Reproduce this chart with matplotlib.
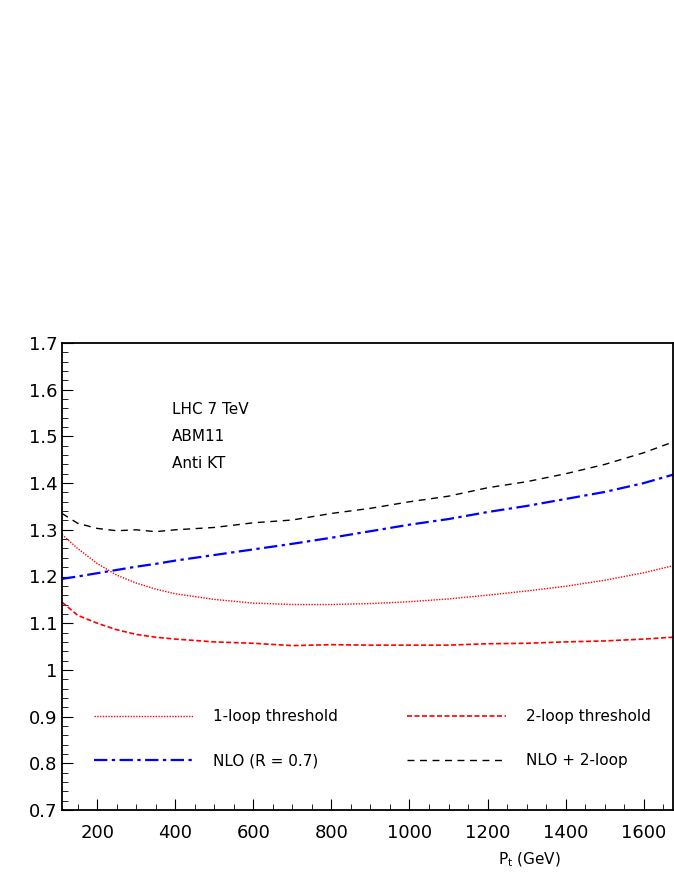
import matplotlib
matplotlib.use("Agg")
import matplotlib.pyplot as plt
from matplotlib.ticker import MultipleLocator

# Pt grid (GeV)
pt = [110, 150, 200, 250, 300, 350, 400, 500, 600, 700, 800, 900, 1000,
      1100, 1200, 1300, 1400, 1500, 1600, 1675]

one_loop = [1.29, 1.26, 1.228, 1.203, 1.186, 1.173, 1.163, 1.151, 1.143, 1.140,
            1.140, 1.142, 1.146, 1.152, 1.160, 1.169, 1.179, 1.192, 1.208, 1.223]
two_loop = [1.145, 1.117, 1.100, 1.086, 1.076, 1.070, 1.066, 1.060, 1.057, 1.052,
            1.054, 1.053, 1.053, 1.053, 1.056, 1.057, 1.060, 1.062, 1.066, 1.070]
nlo = [1.195, 1.200, 1.207, 1.214, 1.221, 1.227, 1.234, 1.246, 1.258, 1.270,
       1.283, 1.297, 1.311, 1.323, 1.338, 1.351, 1.366, 1.381, 1.400, 1.418]
nlo_2loop = [1.335, 1.314, 1.303, 1.298, 1.300, 1.296, 1.300, 1.305, 1.315, 1.321,
             1.335, 1.346, 1.360, 1.372, 1.390, 1.403, 1.420, 1.440, 1.465, 1.488]

fig = plt.figure(figsize=(6.74, 8.73), dpi=100)
ax = fig.add_axes([62/674, 1 - 810/873, (673-62)/674, (810-343)/873])

ax.plot(pt, one_loop, color="red", linestyle=(0, (1, 1)), lw=1.0, label="1-loop threshold")
ax.plot(pt, nlo, color="blue", linestyle=(0, (6, 2, 1.5, 2)), lw=1.6, label="NLO (R = 0.7)")
ax.plot(pt, two_loop, color="red", linestyle=(0, (3, 1.5)), lw=1.2, label="2-loop threshold")
ax.plot(pt, nlo_2loop, color="black", linestyle=(0, (5, 4)), lw=1.0, label="NLO + 2-loop")

ax.set_xlim(110, 1675)
ax.set_ylim(0.7, 1.7)
ax.xaxis.set_major_locator(MultipleLocator(200))
ax.xaxis.set_minor_locator(MultipleLocator(50))
ax.yaxis.set_major_locator(MultipleLocator(0.1))
ax.yaxis.set_minor_locator(MultipleLocator(0.02))
ax.yaxis.set_major_formatter(plt.FuncFormatter(lambda v, p: f"{v:g}"))
ax.tick_params(which="both", direction="in", top=False, right=False, labelsize=13)
ax.tick_params(axis="x", which="major", pad=10)
ax.tick_params(which="major", length=8)
ax.tick_params(which="minor", length=4)
for s in ax.spines.values():
    s.set_linewidth(1.3)

ax.text(0.18, 0.857, "LHC 7 TeV", transform=ax.transAxes, fontsize=11, va="center")
ax.text(0.18, 0.799, "ABM11", transform=ax.transAxes, fontsize=11, va="center")
ax.text(0.18, 0.741, "Anti KT", transform=ax.transAxes, fontsize=11, va="center")

ax.legend(ncol=2, loc="lower left", bbox_to_anchor=(0.03, 0.06), frameon=False,
          fontsize=11, handlelength=6.5, handletextpad=1.3, columnspacing=4.5,
          labelspacing=1.9)

fig.text(498/674, 1 - 860/873, "P$_\\mathregular{t}$ (GeV)", fontsize=11, va="center")

fig.savefig("out.png", dpi=100)
